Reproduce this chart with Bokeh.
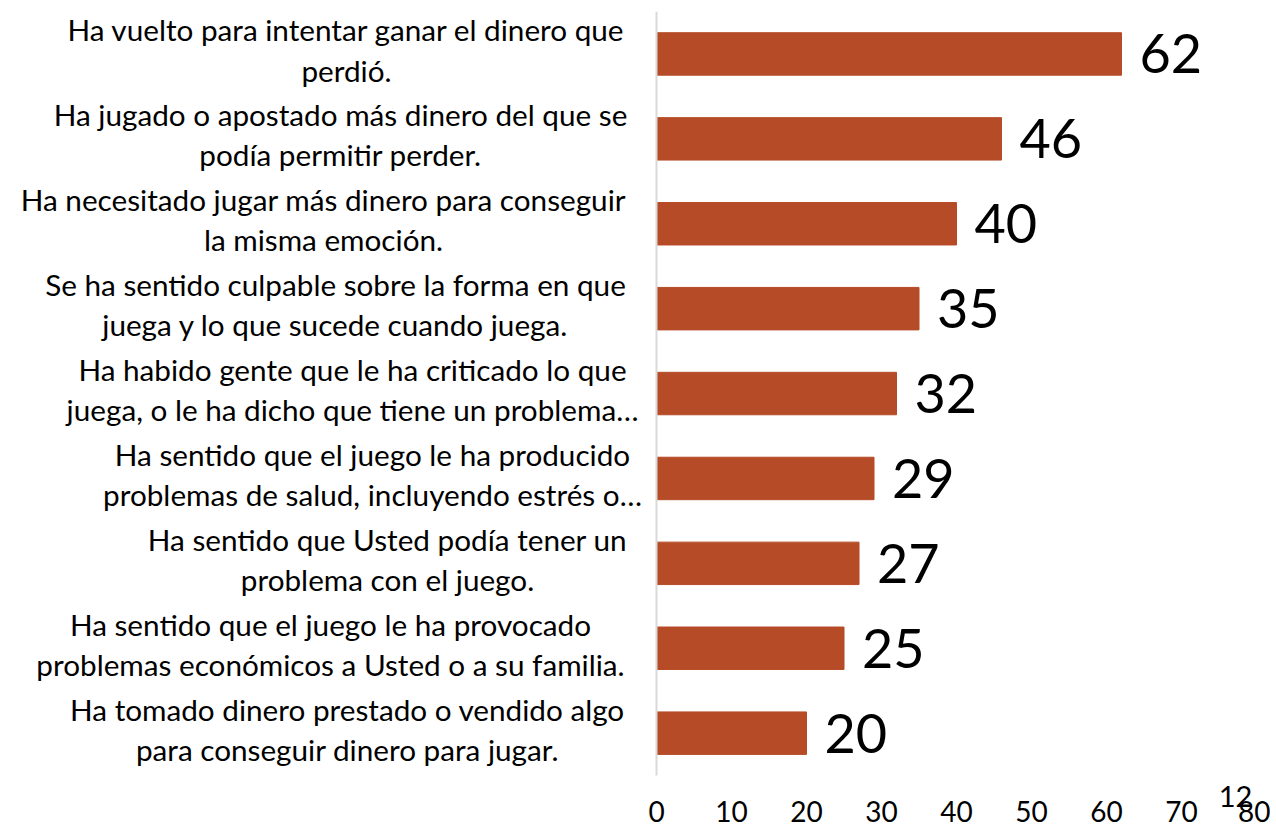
from bokeh.plotting import figure
from bokeh.models import Range1d, Label, FixedTicker
from bokeh.core.properties import value
from bokeh.embed import file_html
from bokeh.resources import INLINE

categories = [
    "Ha vuelto para intentar ganar el dinero que\nperdió.",
    "Ha jugado o apostado más dinero del que se\npodía permitir perder.",
    "Ha necesitado jugar más dinero para conseguir\nla misma emoción.",
    "Se ha sentido culpable sobre la forma en que\njuega y lo que sucede cuando juega.",
    "Ha habido gente que le ha criticado lo que\njuega, o le ha dicho que tiene un problema…",
    "Ha sentido que el juego le ha producido\nproblemas de salud, incluyendo estrés o…",
    "Ha sentido que Usted podía tener un\nproblema con el juego.",
    "Ha sentido que el juego le ha provocado\nproblemas económicos a Usted o a su familia.",
    "Ha tomado dinero prestado o vendido algo\npara conseguir dinero para jugar.",
]
values = [62, 46, 40, 35, 32, 29, 27, 25, 20]
x_ticks = [0, 10, 20, 30, 40, 50, 60, 70, 80]
page_number = "12"

# ---- layout (pixels) ----
W, H = 1270, 828
BORDER_L, BORDER_R, BORDER_T, BORDER_B = 8, 14, 11, 16
FRAME_W = W - BORDER_L - BORDER_R
FRAME_H = H - BORDER_T - BORDER_B
PPU = 7.5                      # pixels per x unit
SLOT_PX = 84.9                 # pixels per category slot
label_center_px = [346, 340, 323, 335, 352, 372, 387, 330, 347]
PX0 = BORDER_L + FRAME_W - 80 * PPU   # pixel of x = 0
label_x = [(c - PX0) / PPU for c in label_center_px]
label_dy = -4 / SLOT_PX
page_px = (1235, 796)

n = len(categories)
y_pos = list(range(n))                       # 0 = top category
y_end = -0.5
y_start = y_end + FRAME_H / SLOT_PX
FONT = "Lato"

p = figure(width=W, height=H, output_backend="svg", toolbar_location=None,
           x_range=Range1d(80 - FRAME_W / PPU, 80),
           y_range=Range1d(y_start, y_end),
           min_border_left=BORDER_L, min_border_right=BORDER_R,
           min_border_top=BORDER_T, min_border_bottom=BORDER_B)
p.outline_line_color = None
p.background_fill_color = "white"
p.grid.visible = False
p.yaxis.visible = False

p.hbar(y=y_pos, right=values, left=0, height=0.5, color="#B64B27")

# vertical category axis line spanning the category slots
p.segment(x0=[0], x1=[0], y0=[y_pos[0] - 0.5], y1=[y_pos[-1] + 0.5],
          line_color="#D9D9D9", line_width=2)

p.text(x=values, y=y_pos, text=[str(v) for v in values], x_offset=18,
       text_align="left", text_baseline="middle", text_font=value(FONT),
       text_font_size="54px", text_color="black")

p.text(x=label_x, y=[y + label_dy for y in y_pos], text=categories,
       text_align="center", text_baseline="middle",
       text_font=value(FONT), text_font_size="29.7px", text_line_height=1.15,
       text_color="black")

ax = p.xaxis[0]
ax.ticker = FixedTicker(ticks=x_ticks)
ax.axis_line_color = None
ax.major_tick_line_color = None
ax.minor_tick_line_color = None
ax.major_label_standoff = -18
ax.major_label_text_font = FONT
ax.major_label_text_font_size = "28px"
ax.major_label_text_color = "black"

p.add_layout(Label(x=(page_px[0] - PX0) / PPU,
                   y=y_end + (page_px[1] - BORDER_T) / SLOT_PX,
                   text=page_number, text_align="center", text_baseline="middle",
                   text_font=FONT, text_font_size="29px", text_color="black"))

open("out.html", "w").write(file_html(p, INLINE))
